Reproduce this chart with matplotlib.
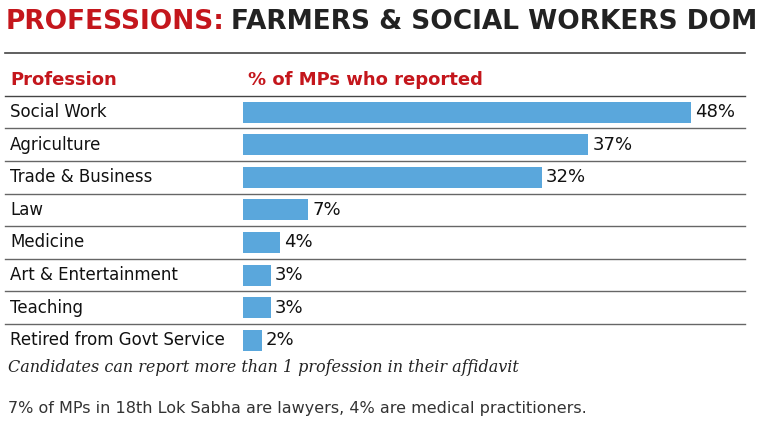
import matplotlib.pyplot as plt

professions = ["Social Work", "Agriculture", "Trade & Business", "Law", "Medicine",
               "Art & Entertainment", "Teaching", "Retired from Govt Service"]
shares = [48, 37, 32, 7, 4, 3, 3, 2]

RED = "#c4161c"
BLUE = "#5aa7dc"

fig = plt.figure(figsize=(7.59, 4.22), dpi=100)
ax = fig.add_axes([0, 0, 1, 1])
ax.set_xlim(0, 759)
ax.set_ylim(422, 0)
ax.axis("off")

# title: two-colour, second part placed after the first one's measured extent
t1 = ax.text(6, 22, "PROFESSIONS:", color=RED, fontsize=19, fontweight="bold",
             va="center")
fig.canvas.draw()
bb = t1.get_window_extent(fig.canvas.get_renderer())
x_end = ax.transData.inverted().transform((bb.x1, bb.y0))[0]
ax.text(x_end + 6, 22, "FARMERS & SOCIAL WORKERS DOMINATE", color="#222222",
        fontsize=19, fontweight="bold", va="center")
ax.plot([5, 745], [53, 53], color="#444444", lw=1.2)

# header
ax.text(10, 80, "Profession", color=RED, fontsize=13, fontweight="bold", va="center")
ax.text(248, 80, "% of MPs who reported", color=RED, fontsize=13, fontweight="bold", va="center")
ax.plot([5, 745], [96, 96], color="#444444", lw=1)

px_per_pct = (691 - 243) / 48
row_h = 32.6
for i, (name, v) in enumerate(zip(professions, shares)):
    y = 112 + i * row_h
    ax.barh(y, v * px_per_pct, left=243, height=21, color=BLUE)
    ax.text(10, y, name, fontsize=12, va="center", color="#111111")
    ax.text(243 + v * px_per_pct + 4, y, f"{v}%", fontsize=13, va="center", color="#111111")
    if i < len(professions) - 1:
        ax.plot([5, 745], [y + row_h / 2, y + row_h / 2], color="#666666", lw=1)

ax.text(8, 368, "Candidates can report more than 1 profession in their affidavit",
        fontsize=11.5, style="italic", family="DejaVu Serif", va="center", color="#222222")
ax.text(8, 408, "7% of MPs in 18th Lok Sabha are lawyers, 4% are medical practitioners.",
        fontsize=11.5, va="center", color="#333333")

fig.savefig("out.png", dpi=100)
